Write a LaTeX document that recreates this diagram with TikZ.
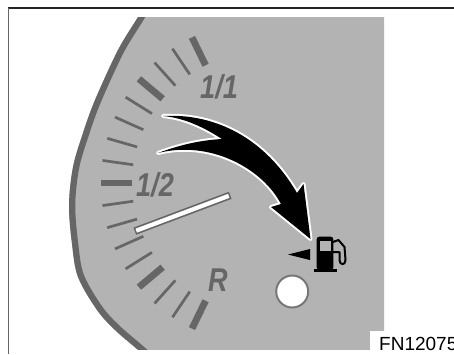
\documentclass[tikz,border=0pt]{standalone}
\usepackage{fontspec}
\setmainfont{Liberation Sans}
\definecolor{dialface}{HTML}{B3B3B3}
\definecolor{dialmark}{HTML}{666666}
\definecolor{lampring}{HTML}{777777}
\begin{document}
\begin{tikzpicture}[x=1pt,y=-1pt,
  thintick/.style={dialmark, line width=2.7pt},
  thicktick/.style={dialmark, line width=6.8pt},
  scalelabel/.style={dialmark, inner sep=0pt, anchor=base west,
    font=\fontsize{33}{33}\selectfont\bfseries\itshape},
  frameline/.style={line width=1.5pt},
  pumpicon/.style={black},
  ]
\useasboundingbox (0,0) rectangle (454,354);

% dial face with its dark rim, seen through the window
\begin{scope}
  \clip (0,17) rectangle (384,349);
  \clip plot[smooth, tension=0.55] coordinates {(154,-10) (138,17) (118,50) (95,100) (83,133) (73,167) (69,205) (72,244) (78,277) (97,310) (115,330) (137,349) (152,362)}
        -- (400,362) -- (400,-10) -- cycle;
  \fill[dialface] (0,0) rectangle (454,354);
  \draw[dialmark, line width=12.5pt] plot[smooth, tension=0.55] coordinates {(154,-10) (138,17) (118,50) (95,100) (83,133) (73,167) (69,205) (72,244) (78,277) (97,310) (115,330) (137,349) (152,362)};
\end{scope}

% scale marks and needle around the hub
\coordinate (hub) at (263,183);
\begin{scope}[shift={(hub)}]
  \foreach \a in {236,228,212,204,196,188,172,164,156,148,132,124}
    \draw[thintick] (\a:131) -- (\a:162);
  \foreach \a in {244,220,180,140,116}
    \draw[thicktick] (\a:131) -- (\a:162);
  \draw[dialmark, line width=7.6pt] (159.4:35) -- (159.4:137);
  \draw[white, line width=4.2pt] (159.4:36.6) -- (159.4:135.4);
\end{scope}

% scale labels
\node[scalelabel] (full) at (200,98) {\scalebox{0.82}[1]{1/1}};
\node[scalelabel] (half) at (136,196.5) {\scalebox{0.82}[1]{1/2}};
\node[scalelabel] (resv) at (208,291.5) {\scalebox{0.82}[1]{R}};

% curved arrow towards the fuel symbol
\fill[black, preaction={draw=white, line width=4pt, line join=round}]
  (163,116) .. controls (215,113) and (265,138) .. (297,193)
  -- (303.5,184) -- (310.5,239) -- (271,207) -- (281,204)
  .. controls (262,168) and (210,140) .. (158,153)
  .. controls (185,143) and (205,140) .. (222,139)
  .. controls (205,128) and (185,118) .. cycle;

% fuel pump symbol with pointer
\fill[pumpicon] (288,254.5) -- (310,249) -- (310,260) -- cycle;
\fill[pumpicon] (314.3,269.3) rectangle (337.3,272.3);
\fill[pumpicon, rounded corners=2.5pt] (316.7,270) -- (316.7,236.7) -- (333.3,236.7) -- (333.3,270) -- cycle;
\fill[dialface] (320,240.7) rectangle (330.7,250.7);
\draw[pumpicon, line width=2pt, line join=round] (333,242) -- (338.5,240) -- (344.5,247) -- (345.5,260)
  .. controls (345.5,265.5) and (339.5,265.5) .. (339.5,260) -- (339.5,252) -- (333,252);

% warning lamp
\filldraw[fill=white, draw=lampring, line width=2pt] (292.2,291.5) circle (16);

% figure number
\fill[white] (369.5,330.5) rectangle (460,360);
\node[anchor=base west, inner sep=0pt, font=\fontsize{19}{19}\selectfont] (fig) at (379,350.5) {FN12075};

% frame
\draw[frameline, black!85] (8,8) -- (454,8);
\draw[frameline, black!60] (8.5,8) -- (8.5,354);
\end{tikzpicture}
\end{document}
